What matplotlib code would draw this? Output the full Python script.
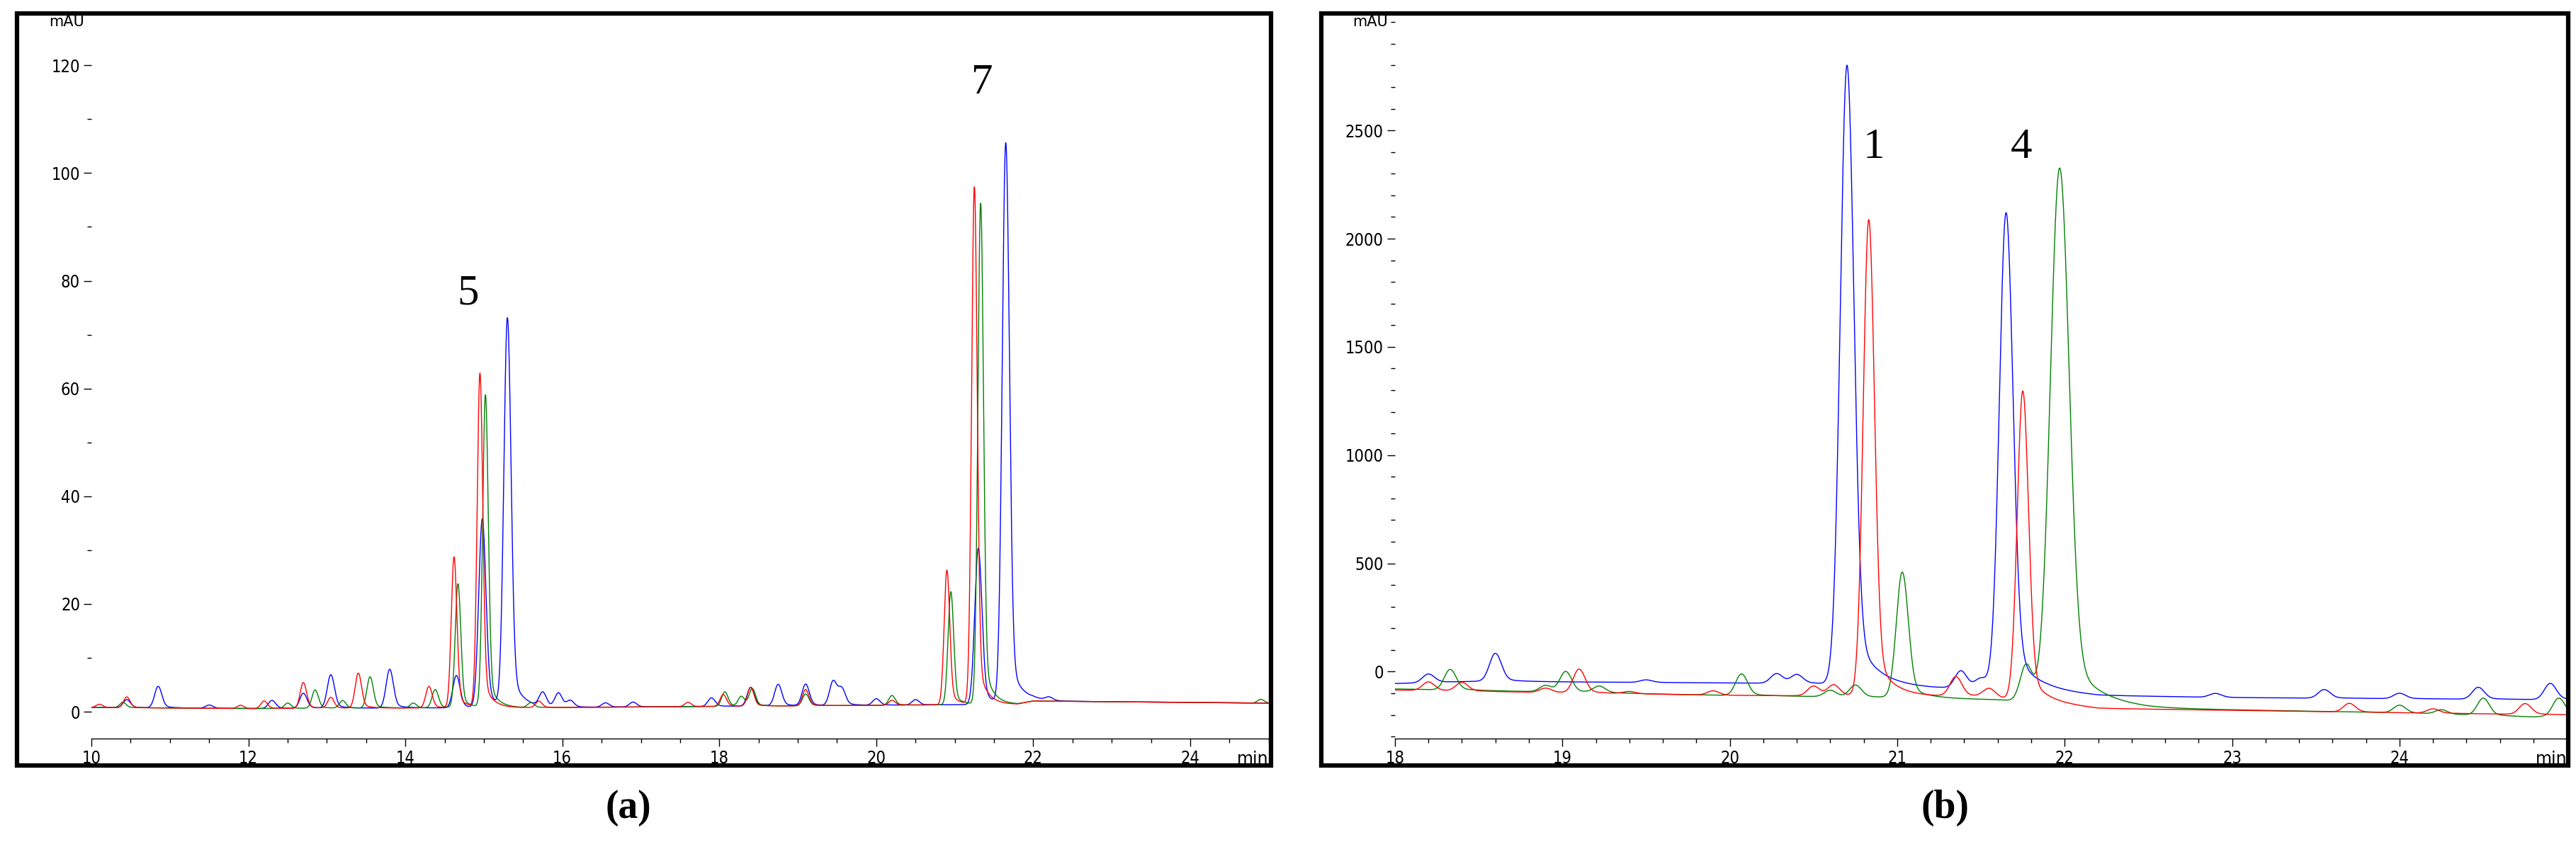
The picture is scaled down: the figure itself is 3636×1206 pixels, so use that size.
import numpy as np
import matplotlib
matplotlib.use("Agg")
import matplotlib.pyplot as plt
from matplotlib.patches import Rectangle
from matplotlib.ticker import MultipleLocator

# ---------------- data: panel (a) ----------------
a_blue_t = [10.45, 10.85, 11.5, 12.3, 12.7, 13.05, 13.8, 14.65, 14.98, 15.3, 15.75, 15.95, 16.1, 16.55, 16.9, 17.9, 18.4, 18.75, 19.1, 19.45, 19.56, 20.0, 20.5, 21.3, 21.65, 22.2]
a_blue_h = [1.5, 4.0, 0.6, 1.5, 2.8, 6.2, 7.2, 6.0, 35, 72, 2.6, 2.6, 1.2, 0.8, 0.9, 1.6, 3.5, 4.0, 4.0, 4.5, 3.0, 1.2, 1.0, 29, 104, 0.6]
a_red_t = [10.1, 10.45, 11.9, 12.2, 12.7, 13.05, 13.4, 14.3, 14.62, 14.95, 15.7, 17.6, 18.05, 18.4, 19.1, 20.2, 20.9, 21.25]
a_red_h = [0.6, 2.0, 0.6, 1.4, 4.8, 2.0, 6.5, 4.0, 28, 62, 1.2, 0.8, 2.2, 3.5, 3.0, 0.9, 25, 96]
a_green_t = [10.4, 12.5, 12.85, 13.2, 13.55, 14.1, 14.38, 14.67, 15.02, 15.6, 18.07, 18.28, 18.42, 19.1, 20.2, 20.95, 21.33, 24.9]
a_green_h = [1.0, 1.0, 3.4, 1.4, 5.8, 0.9, 3.4, 23, 58, 0.9, 2.7, 1.8, 3.2, 2.2, 1.8, 21, 93, 0.7]
a_base_t = [10, 12, 16, 18, 20, 21.8, 22, 25]
a_base_v = [0.8, 0.6, 0.8, 1.0, 1.2, 1.4, 2.0, 1.6]
a_xticks = [10, 12, 14, 16, 18, 20, 22, 24]
a_yticks = [0, 20, 40, 60, 80, 100, 120]

# ---------------- data: panel (b) ----------------
b_blue_t = [18.2, 18.6, 19.5, 20.28, 20.4, 20.7, 21.38, 21.5, 21.65, 22.9, 23.55, 24.0, 24.47, 24.9]
b_blue_h = [40, 130, 12, 45, 40, 2860, 80, 45, 2200, 18, 40, 25, 55, 75]
b_blue_base_t = [18, 18.5, 20.5, 20.75, 21.2, 21.6, 21.9, 22.2, 23.0, 24.0, 25.0]
b_blue_base_v = [-55, -45, -55, -60, -75, -80, -90, -110, -120, -125, -130]
b_red_t = [18.2, 18.4, 18.9, 19.1, 19.4, 19.9, 20.5, 20.62, 20.83, 21.35, 21.55, 21.75, 23.7, 24.2, 24.75]
b_red_h = [40, 40, 20, 110, 10, 20, 45, 50, 2200, 90, 40, 1430, 40, 20, 50]
b_red_base_t = [18, 20, 21.5, 22.2, 24.0, 25.0]
b_red_base_v = [-85, -110, -115, -170, -190, -200]
b_green_t = [18.33, 18.9, 19.02, 19.22, 20.07, 20.6, 20.75, 21.03, 21.77, 21.97, 24.0, 24.25, 24.5, 24.95]
b_green_h = [95, 30, 95, 30, 100, 30, 55, 580, 170, 2470, 35, 20, 80, 80]
b_green_base_t = [18, 20, 21.0, 21.6, 22.5, 24.0, 24.8, 25.0]
b_green_base_v = [-80, -110, -120, -130, -170, -190, -210, -200]
b_xticks = [18, 19, 20, 21, 22, 23, 24]
b_yticks = [0, 500, 1000, 1500, 2000, 2500]


def trace(x, bt, bv, pt, ph, big_thr, sig_small, sig_big):
    y = np.interp(x, bt, bv)
    for t, h in zip(pt, ph):
        s = sig_big if h >= big_thr else sig_small
        g = np.exp(-0.5 * ((x - t) / s) ** 2)
        tail = np.where(x > t, np.exp(-(x - t) / (3 * s)), 0) * (1 - g)
        y = y + h * (g + 0.12 * tail)
    return y


fig = plt.figure(figsize=(36.36, 12.06), dpi=100)
cols = {"b": "#0000ff", "r": "#ff0000", "g": "#008000"}

for (x0, x1) in [(0.0065, 0.4935), (0.513, 0.997)]:
    fig.patches.append(Rectangle((x0, 0.104), x1 - x0, 0.88, transform=fig.transFigure,
                                 fill=False, lw=4.5, ec="black", zorder=0))


def style(ax, xlim, ylim, xticks, xmin, yticks, ymin):
    ax.set_xlim(*xlim)
    ax.set_ylim(*ylim)
    for s in ["top", "right", "left"]:
        ax.spines[s].set_visible(False)
    ax.spines["bottom"].set_linewidth(1.0)
    ax.set_xticks(xticks)
    ax.xaxis.set_minor_locator(MultipleLocator(xmin))
    ax.yaxis.set_minor_locator(MultipleLocator(ymin))
    ax.set_yticks(yticks)
    ax.tick_params(axis="both", which="major", labelsize=17, length=8, width=1, direction="out")
    ax.tick_params(axis="both", which="minor", length=4, width=1, direction="out")
    ax.patch.set_alpha(0)
    for lab in ax.get_xticklabels() + ax.get_yticklabels():
        lab.set_fontstretch("condensed")
    ax.text(1.0, -0.028, "min", ha="right", va="center", fontsize=17,
            transform=ax.transAxes, clip_on=False)
    ax.text(-0.006, 1.0, "mAU", ha="right", va="center", fontsize=15,
            transform=ax.transAxes)


axa = fig.add_axes([0.0355, 0.135, 0.457, 0.839])
xa = np.linspace(10, 25, 6000)
axa.plot(xa, trace(xa, a_base_t, a_base_v, a_blue_t, a_blue_h, 20, 0.045, 0.045), color=cols["b"], lw=1.0)
axa.plot(xa, trace(xa, a_base_t, a_base_v, a_green_t, a_green_h, 20, 0.04, 0.035), color=cols["g"], lw=1.0)
axa.plot(xa, trace(xa, a_base_t, a_base_v, a_red_t, a_red_h, 20, 0.04, 0.035), color=cols["r"], lw=1.0)
style(axa, (10, 25), (-5, 128), a_xticks, 0.5, a_yticks, 10)
axa.text(14.8, 74, "5", fontsize=44, family="Liberation Serif", ha="center", va="bottom")
axa.text(21.35, 113, "7", fontsize=44, family="Liberation Serif", ha="center", va="bottom")

axb = fig.add_axes([0.5415, 0.135, 0.455, 0.839])
xb = np.linspace(18, 25, 6000)
axb.plot(xb, trace(xb, b_blue_base_t, b_blue_base_v, b_blue_t, b_blue_h, 1000, 0.035, 0.04), color=cols["b"], lw=1.0)
axb.plot(xb, trace(xb, b_green_base_t, b_green_base_v, b_green_t, b_green_h, 1000, 0.035, 0.055), color=cols["g"], lw=1.0)
axb.plot(xb, trace(xb, b_red_base_t, b_red_base_v, b_red_t, b_red_h, 1000, 0.035, 0.033), color=cols["r"], lw=1.0)
style(axb, (18, 25), (-310, 3000), b_xticks, 0.2, b_yticks, 100)
axb.text(20.86, 2330, "1", fontsize=44, family="Liberation Serif", ha="center", va="bottom")
axb.text(21.74, 2330, "4", fontsize=44, family="Liberation Serif", ha="center", va="bottom")

fig.text(0.244, 0.054, "(a)", fontsize=40, family="Liberation Serif", weight="bold", ha="center", va="center")
fig.text(0.755, 0.054, "(b)", fontsize=40, family="Liberation Serif", weight="bold", ha="center", va="center")

fig.savefig("out.png", dpi=100)
